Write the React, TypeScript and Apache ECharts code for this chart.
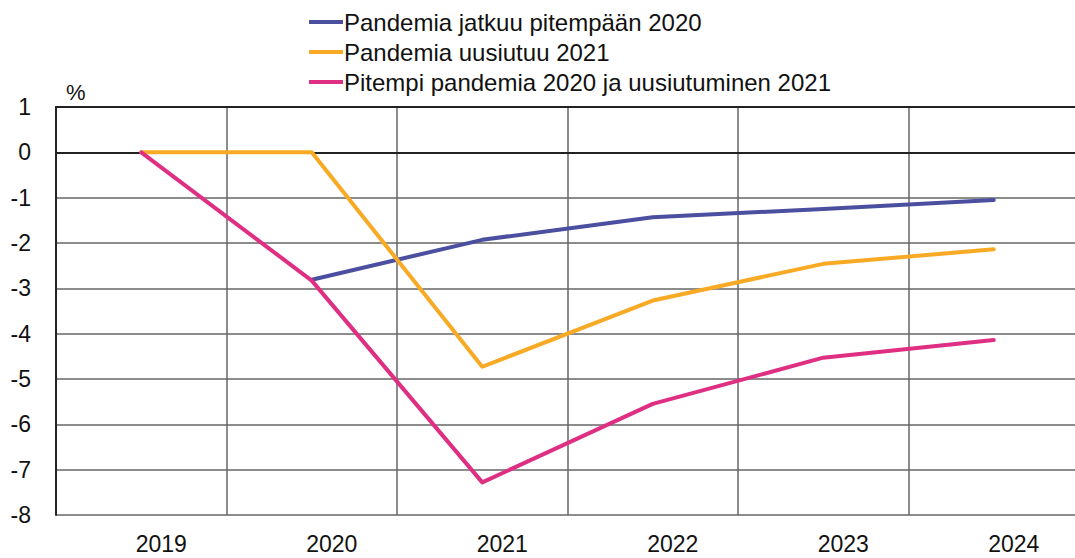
import React, { useEffect, useRef } from "react";
import * as echarts from "echarts";

const years = ["2019", "2020", "2021", "2022", "2023", "2024"];
const seriesNames = [
  "Pandemia jatkuu pitempään 2020",
  "Pandemia uusiutuu 2021",
  "Pitempi pandemia 2020 ja uusiutuminen 2021",
];
const longerPandemic = [null, -2.81, -1.93, -1.43, -1.25, -1.05];
const renewed2021 = [0, 0, -4.73, -3.27, -2.46, -2.14];
const combined = [0, -2.83, -7.28, -5.55, -4.53, -4.14];
const colors = ["#4b4f9f", "#f8aa25", "#df2f82"];

export default function App() {
  const ref = useRef<HTMLDivElement>(null);
  useEffect(() => {
    const chart = echarts.init(ref.current!, null, { renderer: "svg" });
    const font = "'Liberation Sans', Arial, sans-serif";
    const mk = (name: string, data: any[], color: string) => ({
      name,
      type: "line",
      data,
      symbol: "none",
      connectNulls: false,
      lineStyle: { color, width: 4, cap: "round", join: "round" },
      itemStyle: { color },
    });
    chart.setOption({
      animation: false,
      backgroundColor: "#ffffff",
      textStyle: { fontFamily: font },
      legend: {
        orient: "vertical",
        left: 304,
        top: 5,
        itemGap: 6,
        itemWidth: 34,
        itemHeight: 4,
        icon: "rect",
        textStyle: {
          fontSize: 24,
          lineHeight: 24,
          color: "#111",
          fontFamily: font,
          padding: [0, 0, 0, -4],
        },
        data: seriesNames,
      },
      grid: { left: 56, top: 107, width: 1023, height: 408, containLabel: false },
      xAxis: [
        {
          type: "category",
          data: years,
          boundaryGap: true,
          axisLine: { lineStyle: { color: "#222", width: 2 } },
          axisTick: { show: false },
          axisLabel: {
            fontSize: 23,
            color: "#111",
            margin: 17,
            fontFamily: font,
            padding: [0, 0, 0, 40],
          },
          splitLine: { show: true, lineStyle: { color: "#666", width: 1.5 } },
        },
        {
          type: "category",
          data: years,
          position: "top",
          axisLine: { lineStyle: { color: "#222", width: 2 } },
          axisTick: { show: false },
          axisLabel: { show: false },
        },
      ],
      yAxis: {
        type: "value",
        min: -8,
        max: 1,
        interval: 1,
        axisLine: { show: true, lineStyle: { color: "#222", width: 2 } },
        axisTick: { show: false },
        axisLabel: { fontSize: 23, color: "#111", margin: 25, fontFamily: font },
        splitLine: { lineStyle: { color: "#666", width: 1.5 } },
      },
      graphic: [
        {
          type: "text",
          left: 66,
          top: 81,
          style: { text: "%", fontSize: 22, fill: "#111", fontFamily: font },
        },
      ],
      series: [
        mk(seriesNames[0], longerPandemic, colors[0]),
        mk(seriesNames[1], renewed2021, colors[1]),
        mk(seriesNames[2], combined, colors[2]),
      ],
    });
    return () => chart.dispose();
  }, []);
  return (
    <div style={{ position: "absolute", left: 0, top: 0, width: 1075, height: 558, overflow: "hidden" }}>
      <div ref={ref} style={{ width: 1090, height: 558 }} />
    </div>
  );
}
